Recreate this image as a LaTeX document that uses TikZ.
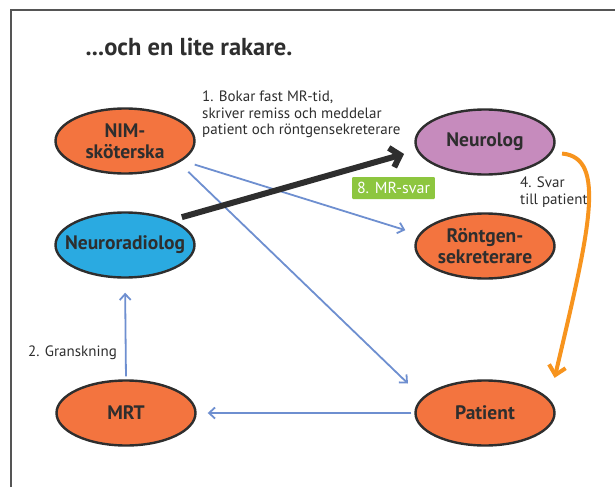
\documentclass[tikz,border=0pt]{standalone}
\usepackage{fontspec}
\setmainfont{PT Sans}
\usetikzlibrary{shapes.geometric,arrows.meta}
\definecolor{inkgrey}{HTML}{2E2E2E}
\definecolor{framegrey}{HTML}{555555}
\definecolor{nimorange}{HTML}{F3743F}
\definecolor{neuropurple}{HTML}{C68BBD}
\definecolor{radblue}{HTML}{2AAAE1}
\definecolor{flowblue}{HTML}{6E8FD0}
\definecolor{svarorange}{HTML}{F7941E}
\definecolor{mrgreen}{HTML}{8DC63F}

\begin{document}
\begin{tikzpicture}[x=1pt,y=-1pt,
  actor/.style={ellipse, draw=inkgrey, line width=2.4pt, minimum width=139pt, minimum height=65pt,
    inner xsep=-12pt, inner ysep=0pt, align=center, text=inkgrey, font=\fontsize{19.5}{21}\selectfont\bfseries},
  flow/.style={draw=flowblue, line width=1.8pt, -{Straight Barb[length=6pt,width=11pt]}},
  note/.style={inner sep=0pt, align=left, text=inkgrey, font=\fontsize{15}{16.5}\selectfont}]
\useasboundingbox (0,0) rectangle (615,487);
\draw[framegrey, line width=1.5pt] (11,487) -- (11,10) -- (615,10);
\node[anchor=west, text=inkgrey, font=\fontsize{24.5}{26}\selectfont\bfseries] (title) at (82,47) {...och en lite rakare.};

\node[actor, fill=nimorange] (nim) at (125,141) {NIM-\\sköterska};
\node[actor, fill=radblue] (neurorad) at (125,245) {Neuroradiolog};
\node[actor, fill=neuropurple] (neurolog) at (485,142) {Neurolog};
\node[actor, fill=nimorange] (rontgen) at (485,246) {Röntgen-\\sekreterare};
\node[actor, fill=nimorange] (mrt) at (126,413) {MRT};
\node[actor, fill=nimorange] (patient) at (485,413) {Patient};

\node[note, anchor=north west] (bokar) at (202,91) {1. Bokar fast MR-tid,\\skriver remiss och meddelar\\patient och röntgensekreterare};
\node[fill=mrgreen, text=white, inner xsep=5pt, minimum height=22pt, rounded corners=1pt,
  font=\fontsize{16}{18}\selectfont] (mrsvar) at (393.5,188) {8. MR-svar};
\node[note, anchor=north west] (svar) at (520,177) {4. Svar\\till patient};

\draw[flow, shorten <=13pt, shorten >=14pt] (nim.-19) -- (rontgen.170);
\draw[flow, shorten <=13pt, shorten >=20pt] (nim.-22) -- (patient.166);
\draw[inkgrey, line width=6pt, -{Straight Barb[length=9pt,width=20pt]}, shorten <=10pt, shorten >=13pt]
  (neurorad.28) -- (neurolog.187);
\draw[svarorange, line width=4pt, -{Straight Barb[length=9pt,width=17pt]}, shorten <=10pt, shorten >=22pt]
  (neurolog.-9) .. controls +(55,5) and +(40,-170) .. (patient.12);
\draw[flow, shorten <=3pt, shorten >=11pt] (patient.west) -- (mrt.east);
\draw[flow, shorten <=3pt, shorten >=14pt] (mrt.north) -- (neurorad.south)
  node[note, pos=0.26, left=8pt] {2. Granskning};
\end{tikzpicture}
\end{document}
